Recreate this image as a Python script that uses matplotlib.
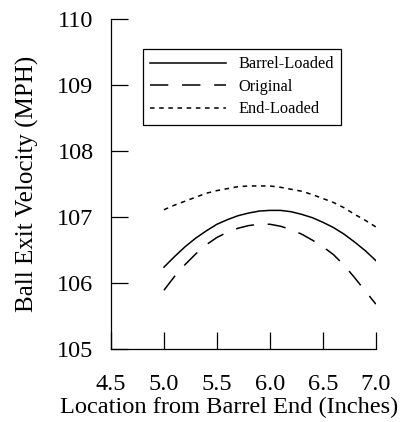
import matplotlib
matplotlib.use("Agg")
import matplotlib.pyplot as plt

plt.rcParams['font.family'] = ['Liberation Serif', 'DejaVu Serif']

# location along the bat (inches)
location = [5.0, 5.1, 5.2, 5.3, 5.4, 5.5, 5.6, 5.7, 5.8, 5.9, 6.0,
            6.1, 6.2, 6.3, 6.4, 6.5, 6.6, 6.7, 6.8, 6.9, 7.0]

barrel_loaded = [106.24, 106.40, 106.55, 106.68, 106.79, 106.89, 106.96, 107.02, 107.06, 107.09, 107.10,
                 107.10, 107.08, 107.04, 106.99, 106.92, 106.84, 106.74, 106.62, 106.49, 106.34]
original = [105.89, 106.10, 106.28, 106.44, 106.58, 106.69, 106.77, 106.83, 106.87, 106.89, 106.89,
            106.86, 106.81, 106.74, 106.65, 106.55, 106.43, 106.27, 106.08, 105.88, 105.68]
end_loaded = [107.11, 107.18, 107.24, 107.30, 107.36, 107.40, 107.43, 107.46, 107.47, 107.47, 107.47,
              107.45, 107.42, 107.39, 107.34, 107.28, 107.22, 107.14, 107.04, 106.95, 106.85]

x_ticks = [4.5, 5.0, 5.5, 6.0, 6.5, 7.0]
y_ticks = [105, 106, 107, 108, 109, 110]

fig = plt.figure(figsize=(4.05, 4.22), dpi=100)
ax = fig.add_axes([0.274, 0.173, 0.654, 0.782])

ax.plot(location, barrel_loaded, color='black', lw=1.1, linestyle='solid', label='Barrel-Loaded')
ax.plot(location, original, color='black', lw=1.1, linestyle=(0, (12, 9)), label='Original')
ax.plot(location, end_loaded, color='black', lw=1.1, linestyle=(0, (3, 3)), label='End-Loaded')

ax.set_xlim(4.5, 7.0)
ax.set_ylim(105, 110)
ax.set_xticks(x_ticks)
ax.set_xticklabels(['%.1f' % v for v in x_ticks])
ax.set_yticks(y_ticks)
ax.spines['top'].set_visible(False)
ax.spines['right'].set_visible(False)
for s in ['left', 'bottom']:
    ax.spines[s].set_linewidth(0.9)
ax.tick_params(direction='in', length=12.5, width=0.9, labelsize=17.5)
ax.tick_params(axis='y', pad=12.5)
ax.tick_params(axis='x', pad=18)

ax.set_xlabel('Location from Barrel End (Inches)', fontsize=17.6)
ax.xaxis.set_label_coords(0.447, -0.145)
ax.set_ylabel('Ball Exit Velocity (MPH)', fontsize=18)
ax.yaxis.set_label_coords(-0.272, 0.5)

leg = fig.legend(loc='upper left', bbox_to_anchor=(0.353, 0.884), fontsize=11.8,
                 handlelength=4.6, fancybox=False, edgecolor='black', framealpha=1,
                 borderpad=0.45, labelspacing=0.4, handletextpad=0.75, borderaxespad=0)
leg.get_frame().set_linewidth(0.9)

fig.savefig('out.png', dpi=100)
